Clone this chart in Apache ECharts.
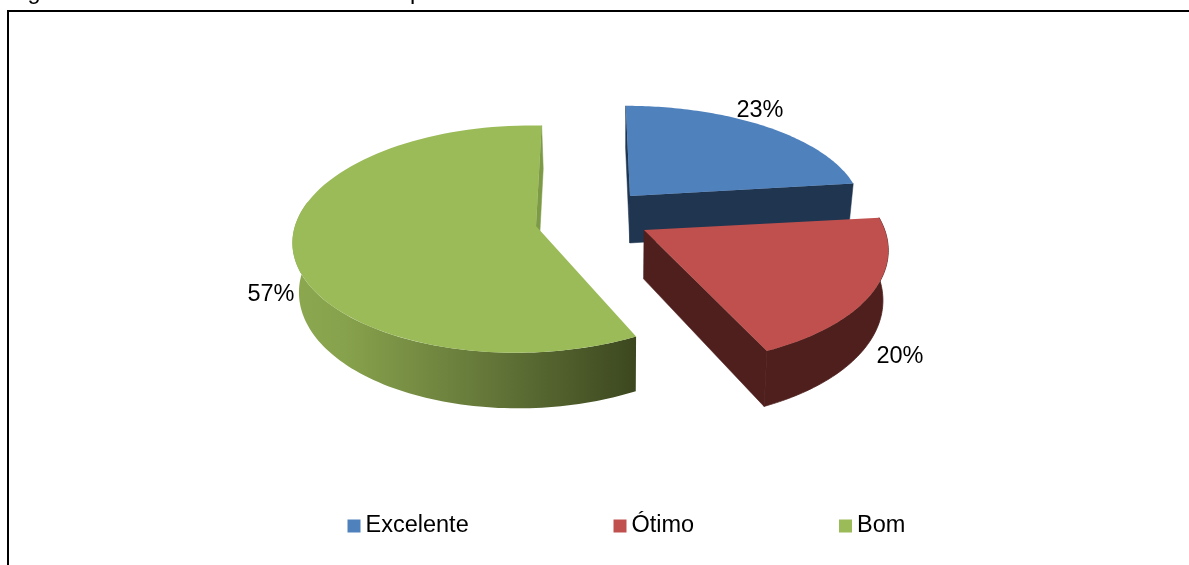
<!DOCTYPE html>
<html>
<head>
<meta charset="utf-8">
<style>html,body{margin:0;padding:0;background:#fff;overflow:hidden}#chart{width:1189px;height:565px}</style>
<script src="https://cdn.jsdelivr.net/npm/echarts@6/dist/echarts.min.js"></script>
</head>
<body>
<div id="chart"></div>
<script>
// Avaliação do atendimento: percentages per rating
const categories = ['Excelente', 'Ótimo', 'Bom'];
const shares = [23, 20, 57];
const topColors = ['#4f81bd', '#c0504d', '#9bbb59'];

// Projection of each exploded slice's top face: unit disc -> screen
const faces = [
  { cx: 630, cy: 196, a: 229, b: 4.8, c: 0, d: 101, k: 0.12, l: 0 },
  { cx: 644, cy: 230, a: 241.5, b: 7.5, c: 2.35, d: 118, k: 0.12, l: 0 },
  { cx: 536, cy: 226, a: 229, b: -6.3, c: 0, d: 112, k: 0.115, l: -0.05 }
];
// Which walls of the extrusion each slice shows
const walls = [
  { cuts: ['start', 'end'], outer: null, color: '#1f3550' },
  { cuts: ['end'], outer: [0, 1], color: '#4e1f1d' },
  { cuts: ['end'], outer: [0, 0.62], color: '#7d9a46', gradient: true }
];
const labelSpots = [[760, 111], [900, 357], [271, 295]];
const legendLefts = [342.5, 608.5, 834];

const FONT = '"Liberation Sans", Arial, sans-serif';
const total = shares.reduce((s, v) => s + v, 0);

function project(f, theta) {
  const u = Math.sin(theta), v = -Math.cos(theta);
  const w = 1 / (1 - f.k * v - f.l * u);
  return [f.cx + (f.a * u + f.b * v) * w, f.cy + (f.c * u + f.d * v) * w];
}
// Lower rim of the extrusion derived from a point on the top face
function lower(p) {
  return [620 + (p[0] - 620) * 0.98, p[1] * 1.055 + 36.2];
}
function arc(f, t0, t1) {
  const pts = [], n = 90;
  for (let i = 0; i <= n; i++) pts.push(project(f, t0 + (t1 - t0) * i / n));
  return pts;
}
function sliceAngles(idx) {
  let before = 0;
  for (let i = 0; i < idx; i++) before += shares[i];
  return [before / total * 2 * Math.PI, (before + shares[idx]) / total * 2 * Math.PI];
}

function renderSlice(params, api) {
  const i = params.seriesIndex;
  const f = faces[i], wall = walls[i];
  const [t0, t1] = sliceAngles(i);
  const apex = [f.cx, f.cy];
  const rim = arc(f, t0, t1);
  const children = [];
  wall.cuts.forEach(side => {
    const p = side === 'start' ? rim[0] : rim[rim.length - 1];
    children.push({ type: 'polygon', shape: { points: [apex, p, lower(p), lower(apex)] },
      style: { fill: wall.color, stroke: wall.color, lineWidth: 0.5 } });
  });
  if (wall.outer) {
    const a0 = t0 + (t1 - t0) * wall.outer[0], a1 = t0 + (t1 - t0) * wall.outer[1];
    const upper = arc(f, a0, a1);
    const pts = upper.concat(upper.map(lower).reverse());
    children.push({ type: 'polygon', shape: { points: pts },
      style: wall.gradient
        ? { fill: new echarts.graphic.LinearGradient(1, 0, 0, 0, [
            { offset: 0, color: '#3c471f' }, { offset: 0.45, color: '#66793a' },
            { offset: 0.85, color: '#87a24c' }, { offset: 1, color: '#8ba84f' }]) }
        : { fill: wall.color, stroke: wall.color, lineWidth: 0.8 } });
  }
  children.push({ type: 'polygon', shape: { points: [apex].concat(rim) },
    style: { fill: topColors[i] } });
  children.push({ type: 'text', style: {
    x: labelSpots[i][0], y: labelSpots[i][1], text: Math.round(api.value(0)) + '%',
    align: 'center', verticalAlign: 'middle', font: '23.5px ' + FONT, fill: '#000' } });
  return { type: 'group', children };
}

const chart = echarts.init(document.getElementById('chart'), null, { renderer: 'canvas' });
chart.setOption({
  animation: false,
  backgroundColor: '#fff',
  legend: categories.map((name, i) => ({
    data: [name], left: legendLefts[i], top: 509,
    icon: 'rect', itemWidth: 13, itemHeight: 13, itemGap: 0,
    textStyle: { fontFamily: FONT, fontSize: 23.5, color: '#000' }
  })),
  series: categories.map((name, i) => ({
    type: 'custom', name, coordinateSystem: 'none',
    itemStyle: { color: topColors[i] },
    data: [[shares[i]]], renderItem: renderSlice, silent: true
  })),
  graphic: [
    // Frame around the chart area; it runs past the right and bottom edges of the page
    { type: 'polyline', shape: { points: [[8, 600], [8, 11], [1200, 11]] },
      style: { stroke: '#000', lineWidth: 2, fill: null }, silent: true },
    // Heading line sits above the page top, only its descenders reach into view
    { type: 'text', left: 8, top: -19, silent: true,
      style: { text: 'Figura', font: '23.5px ' + FONT, fill: '#000' } },
    { type: 'text', left: 410, top: -19, silent: true,
      style: { text: 'p', font: '23.5px ' + FONT, fill: '#000' } }
  ]
});
</script>
</body>
</html>
